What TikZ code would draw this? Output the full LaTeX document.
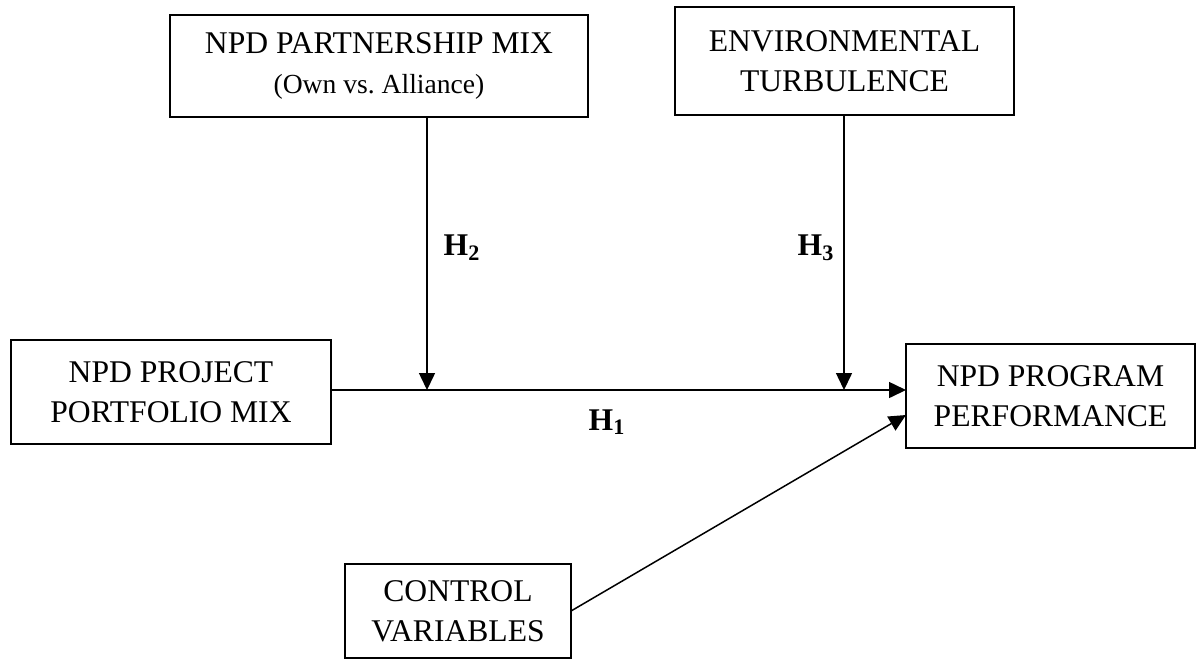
\documentclass[tikz,border=0pt]{standalone}
\usepackage{fontspec}
\setmainfont{Liberation Serif}
\usetikzlibrary{arrows.meta}

\begin{document}
\begin{tikzpicture}[
    x=0.5pt, y=-0.5pt,
    every node/.style={font=\fontsize{15.8}{20}\selectfont},
    block/.style={draw, line width=1.3pt, align=center,
                  inner sep=0pt, outer sep=0pt},
    link/.style={-{Triangle[length=8.5pt,width=8pt]}, line width=0.75pt},
    hyp/.style={font=\fontsize{15.8}{20}\selectfont\bfseries},
  ]
  \useasboundingbox (0,0) rectangle (1197,660);

  \node[block, minimum width=209pt, minimum height=51pt] (PM) at (379,66)
    {NPD PARTNERSHIP MIX\\\fontsize{13.8}{17.5}\selectfont (Own vs.\ Alliance)};
  \node[block, minimum width=169.5pt, minimum height=54pt] (ET) at (844.5,61)
    {ENVIRONMENTAL\\TURBULENCE};
  \node[block, minimum width=160pt, minimum height=52pt] (PF) at (171,392)
    {NPD PROJECT\\PORTFOLIO MIX};
  \node[block, minimum width=144.5pt, minimum height=52pt] (PR) at (1050.5,396)
    {NPD PROGRAM\\PERFORMANCE};
  \node[block, minimum width=113pt, minimum height=47pt] (CV) at (458,611)
    {CONTROL\\VARIABLES};

  \coordinate (m2) at (427,390);
  \coordinate (m3) at (844,390);

  \draw[link] (PF.east |- m2) -- (PR.west |- m2);
  \draw[link] (PM.south -| m2) -- (m2);
  \draw[link] (ET.south -| m3) -- (m3);
  \draw[link] (CV.east) -- ([yshift=-9.5pt]PR.west);

  \node[hyp] (h1) at (607,422) {H\textsubscript{1}};
  \node[hyp] (h2) at (462,248) {H\textsubscript{2}};
  \node[hyp] (h3) at (816,248) {H\textsubscript{3}};
\end{tikzpicture}
\end{document}
